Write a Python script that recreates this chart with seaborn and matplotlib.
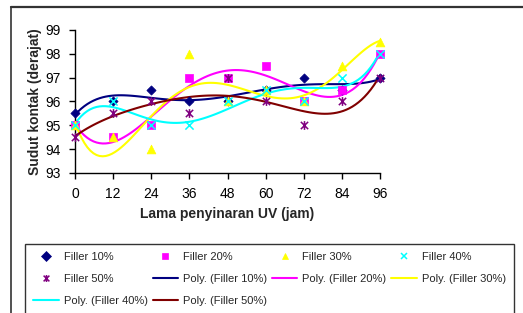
import numpy as np
import pandas as pd
import matplotlib
matplotlib.use('Agg')
import matplotlib.pyplot as plt
from matplotlib.lines import Line2D
from matplotlib.path import Path
import seaborn as sns

# lama penyinaran UV (jam)
hours = [0, 12, 24, 36, 48, 60, 72, 84, 96]

# sudut kontak (derajat) per filler
filler_10 = [95.5, 96.0, 96.5, 96.0, 96.0, 96.5, 97.0, 96.5, 97.0]
filler_20 = [95.0, 94.5, 95.0, 97.0, 97.0, 97.5, 96.0, 96.5, 98.0]
filler_30 = [95.0, 94.5, 94.0, 98.0, 96.0, 96.5, 96.0, 97.5, 98.5]
filler_40 = [95.0, 96.0, 95.0, 95.0, 96.0, 96.5, 96.0, 97.0, 98.0]
filler_50 = [94.5, 95.5, 96.0, 95.5, 97.0, 96.0, 95.0, 96.0, 97.0]

labels = ['Filler 10%', 'Filler 20%', 'Filler 30%', 'Filler 40%', 'Filler 50%']
series = [filler_10, filler_20, filler_30, filler_40, filler_50]
marker_colors = ['#000080', '#FF00FF', '#FFFF00', '#00FFFF', '#800080']
line_colors = ['#000080', '#FF00FF', '#FFFF00', '#00FFFF', '#800000']

# excel-like star marker: an x with a vertical bar
star = Path([(-1, -1), (1, 1), (-1, 1), (1, -1), (0, -1.2), (0, 1.2)],
            [Path.MOVETO, Path.LINETO, Path.MOVETO, Path.LINETO, Path.MOVETO, Path.LINETO])
markers = ['D', 's', '^', 'x', star]
marker_sizes = [22, 30, 40, 35, 40]
line_markers = [False, False, False, True, True]

sns.set_style('white')
plt.rcParams['font.family'] = ['Liberation Sans', 'DejaVu Sans']

fig = plt.figure(figsize=(5.23, 3.13), dpi=100)
ax = fig.add_axes([0.1434, 0.4473, 0.5832, 0.4569])

point_handles = []
line_handles = []
for vals, mc, lc, mk, ms, line_mk in zip(series, marker_colors, line_colors, markers,
                                           marker_sizes, line_markers):
    df = pd.DataFrame({'x': hours, 'y': vals})
    # polynomial trendline
    sns.regplot(data=df, x='x', y='y', order=5, ci=None, scatter=False, ax=ax,
                line_kws=dict(color=lc, lw=1.5, zorder=2))
    sns.scatterplot(data=df, x='x', y='y', marker=mk, color=mc, s=ms, ax=ax,
                    edgecolor=mc, linewidth=1.1 if line_mk else 0.5,
                    zorder=3, clip_on=False, legend=False)
    point_handles.append(Line2D([], [], ls='none', marker=mk, color=mc, markersize=5,
                                markerfacecolor='none' if line_mk else mc,
                                markeredgewidth=1.1 if line_mk else 0.5))
    line_handles.append(Line2D([], [], color=lc, lw=1.5))

ax.set_xlim(0, 96)
ax.set_ylim(93, 99)
ax.set_xticks(hours)
ax.set_yticks(range(93, 100))
ax.tick_params(axis='both', labelsize=10, length=4, width=1, colors='black',
               direction='out', bottom=True, left=True, pad=6)
for s in ['top', 'right']:
    ax.spines[s].set_visible(False)
for s in ['left', 'bottom']:
    ax.spines[s].set_color('black')
    ax.spines[s].set_linewidth(1)

ax.set_xlabel('Lama penyinaran UV (jam)', fontsize=10, fontweight='bold')
ax.set_ylabel('Sudut kontak (derajat)', fontsize=10, fontweight='bold')
ax.xaxis.set_label_coords(0.5, -0.24)
ax.yaxis.set_label_coords(-0.108, 0.5)

all_handles = point_handles + line_handles
all_labels = labels + ['Poly. (' + l + ')' for l in labels]
order = [0, 4, 8, 1, 5, 9, 2, 6, 3, 7]
leg = fig.legend([all_handles[i] for i in order], [all_labels[i] for i in order],
                 ncol=4, loc='upper left', bbox_to_anchor=(0.048, 0.0096, 0.935, 0.211),
                 mode='expand', fontsize=8, frameon=True, fancybox=False,
                 borderaxespad=0, handlelength=2.3, handletextpad=0.45,
                 columnspacing=0.3, labelspacing=1.05, borderpad=0.75)
leg.get_frame().set_edgecolor('black')
leg.get_frame().set_linewidth(1)

# chart area frame (top and left edges visible in the crop)
fig.add_artist(Line2D([11 / 523, 1], [1 - 7 / 313, 1 - 7 / 313], transform=fig.transFigure,
                      color='#333333', lw=1.6))
fig.add_artist(Line2D([11 / 523, 11 / 523], [0, 1 - 7 / 313], transform=fig.transFigure,
                      color='#333333', lw=1.2))

fig.savefig('out.png', dpi=100)
